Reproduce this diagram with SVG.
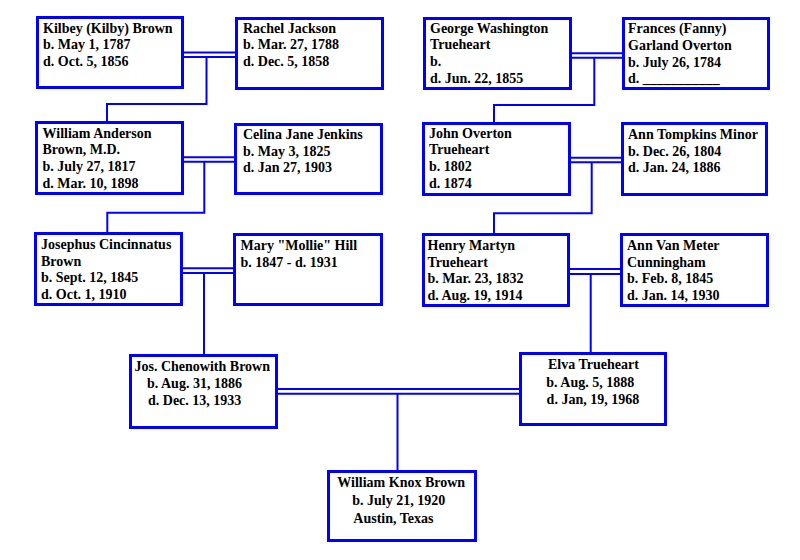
<svg xmlns="http://www.w3.org/2000/svg" width="800" height="560" viewBox="0 0 800 560">
<style>
.box{fill:#fff;stroke:#0000ff;stroke-width:3}
.c line,.c polyline{stroke:#0000ff;stroke-width:2;fill:none}
text{font-family:"Liberation Serif","Times New Roman",serif;font-weight:bold;font-size:14px;fill:#000}
</style>
<rect width="800" height="560" fill="#fff"/>
<g class="c" id="connectors">
<line x1="184" y1="52.5" x2="235" y2="52.5"/><line x1="184" y1="57" x2="235" y2="57"/>
<polyline points="206.5,57 206.5,104 107,104 107,121"/>
<line x1="572" y1="53.3" x2="622" y2="53.3"/><line x1="572" y1="57.7" x2="622" y2="57.7"/>
<polyline points="594.3,57.7 594.3,105 494,105 494,122"/>
<line x1="184" y1="157.3" x2="234" y2="157.3"/><line x1="184" y1="161.7" x2="234" y2="161.7"/>
<polyline points="204.3,161.7 204.3,212.7 107.3,212.7 107.3,232"/>
<line x1="571" y1="157.7" x2="621" y2="157.7"/><line x1="571" y1="162.3" x2="621" y2="162.3"/>
<polyline points="591.7,162.3 591.7,213.3 494,213.3 494,233"/>
<line x1="183" y1="268.3" x2="233" y2="268.3"/><line x1="183" y1="273" x2="233" y2="273"/>
<line x1="204" y1="273" x2="204" y2="354"/>
<line x1="570" y1="269" x2="620" y2="269"/><line x1="570" y1="274" x2="620" y2="274"/>
<line x1="590.7" y1="274" x2="590.7" y2="352"/>
<line x1="278" y1="389" x2="519" y2="389"/><line x1="278" y1="393.7" x2="519" y2="393.7"/>
<line x1="397.5" y1="393.7" x2="397.5" y2="470"/>
</g>
<g id="kilbey"><rect class="box" x="37.5" y="17.5" width="145" height="70"/>
<text x="43" y="32.7">Kilbey (Kilby) Brown</text><text x="43" y="49.3">b. May 1, 1787</text><text x="43" y="66">d. Oct. 5, 1856</text></g>
<g id="rachel"><rect class="box" x="236.5" y="18.5" width="146" height="70"/>
<text x="243" y="32.7">Rachel Jackson</text><text x="243" y="49.3">b. Mar. 27, 1788</text><text x="243" y="66">d. Dec. 5, 1858</text></g>
<g id="george"><rect class="box" x="424.5" y="18.5" width="146" height="70"/>
<text x="430" y="32.7">George Washington</text><text x="430" y="49.3">Trueheart</text><text x="430" y="66">b.</text><text x="430" y="82.7">d. Jun. 22, 1855</text></g>
<g id="frances"><rect class="box" x="623.5" y="18.5" width="145" height="70"/>
<text x="628" y="33.3">Frances (Fanny)</text><text x="628" y="50">Garland Overton</text><text x="628" y="66.7">b. July 26, 1784</text><text x="628" y="83.3">d. ___________</text></g>
<g id="william"><rect class="box" x="36.5" y="122.5" width="146" height="71"/>
<text x="42.5" y="137.7">William Anderson</text><text x="42.5" y="154.3">Brown, M.D.</text><text x="42.5" y="171">b. July 27, 1817</text><text x="42.5" y="187.7">d. Mar. 10, 1898</text></g>
<g id="celina"><rect class="box" x="235.5" y="124.5" width="146" height="69"/>
<text x="243" y="139">Celina Jane Jenkins</text><text x="243" y="155.7">b. May 3, 1825</text><text x="243" y="172.3">d. Jan 27, 1903</text></g>
<g id="john"><rect class="box" x="423.5" y="123.5" width="146" height="71"/>
<text x="429" y="137.7">John Overton</text><text x="429" y="154.3">Trueheart</text><text x="429" y="171">b. 1802</text><text x="429" y="187.7">d. 1874</text></g>
<g id="anntompkins"><rect class="box" x="622.5" y="123.5" width="144" height="71"/>
<text x="628" y="139">Ann Tompkins Minor</text><text x="628" y="155.7">b. Dec. 26, 1804</text><text x="628" y="172.3">d. Jan. 24, 1886</text></g>
<g id="josephus"><rect class="box" x="35.5" y="233.5" width="146" height="71"/>
<text x="41" y="249">Josephus Cincinnatus</text><text x="41" y="265.7">Brown</text><text x="41" y="282.3">b. Sept. 12, 1845</text><text x="41" y="299">d. Oct. 1, 1910</text></g>
<g id="mary"><rect class="box" x="234.5" y="234.5" width="147" height="70"/>
<text x="240.5" y="250">Mary "Mollie" Hill</text><text x="240.5" y="266.7">b. 1847 - d. 1931</text></g>
<g id="henry"><rect class="box" x="423.5" y="234.5" width="145" height="71"/>
<text x="427.5" y="250">Henry Martyn</text><text x="427.5" y="266.7">Trueheart</text><text x="427.5" y="283.3">b. Mar. 23, 1832</text><text x="427.5" y="300">d. Aug. 19, 1914</text></g>
<g id="annvanmeter"><rect class="box" x="621.5" y="234.5" width="146" height="71"/>
<text x="627" y="250">Ann Van Meter</text><text x="627" y="266.7">Cunningham</text><text x="627" y="283.3">b. Feb. 8, 1845</text><text x="627" y="300">d. Jan. 14, 1930</text></g>
<g id="joschenowith"><rect class="box" x="130.5" y="355.5" width="146" height="72"/>
<text x="134.5" y="371">Jos. Chenowith Brown</text><text x="147" y="388.2">b. Aug. 31, 1886</text><text x="148" y="405.4">d. Dec. 13, 1933</text></g>
<g id="elva"><rect class="box" x="520.5" y="353.5" width="145" height="71"/>
<text x="548" y="369.3">Elva Trueheart</text><text x="546.3" y="386.5">b. Aug. 5, 1888</text><text x="546.6" y="403.7">d. Jan, 19, 1968</text></g>
<g id="williamknox"><rect class="box" x="328.5" y="471.5" width="147" height="69"/>
<text x="337.3" y="486.7">William Knox Brown</text><text x="352.3" y="505">b. July 21, 1920</text><text x="353.3" y="523.3">Austin, Texas</text></g>
</svg>
